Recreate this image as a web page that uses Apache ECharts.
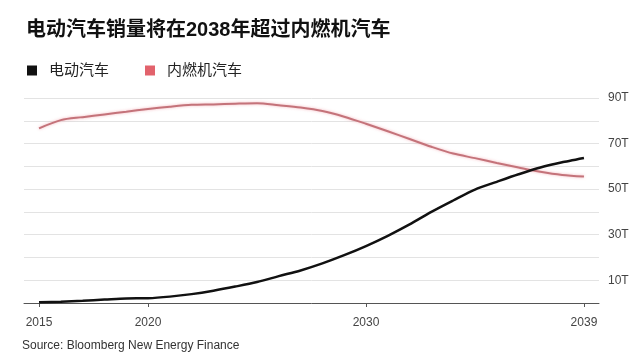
<!DOCTYPE html>
<html>
<head>
<meta charset="utf-8">
<script src="https://cdn.jsdelivr.net/npm/echarts@6/dist/echarts.min.js"></script>
<style>
html,body{margin:0;padding:0;background:#fff;}
#chart{width:641px;height:356px;}
</style>
</head>
<body>
<div id="chart"></div>
<script>
var years = [2015,2016,2017,2018,2019,2020,2021,2022,2023,2024,2025,2026,2027,2028,2029,2030,2031,2032,2033,2034,2035,2036,2037,2038,2039,2040];
var evSales = [0.3,0.6,1.0,1.5,2.0,2.1,2.8,3.9,5.4,7.2,9.2,11.8,14.3,17.4,21.0,25.0,29.5,34.5,40.0,45.0,49.8,53.2,56.5,59.5,61.8,63.7];
var iceSales = [76.7,80.3,81.6,82.8,84.0,85.2,86.2,87.0,87.2,87.5,87.7,86.8,85.8,84.3,81.8,78.7,75.4,72.0,68.6,65.6,63.6,61.5,59.5,57.6,56.2,55.5];
var xTickValues = [2015,2020,2030,2040];
var xTickLabels = ['2015','2020','2030','2039'];
var yLabelValues = [10,30,50,70,90];
var seriesNames = ['电动汽车','内燃机汽车'];
var titleText = '电动汽车销量将在2038年超过内燃机汽车';
var sourceText = 'Source: Bloomberg New Energy Finance';

function pairs(vals){ return years.map(function(y,i){ return [y, vals[i]]; }); }

var chart = echarts.init(document.getElementById('chart'), null, {renderer:'canvas'});
var font = 'Helvetica, Arial, "Liberation Sans", "Noto Sans CJK SC", sans-serif';
chart.setOption({
  animation:false,
  backgroundColor:'#fff',
  textStyle:{fontFamily:font},
  title:[{
    text:titleText, left:21, top:15,
    textStyle:{fontSize:20, fontWeight:'bold', color:'#111', fontFamily:font}
  },{
    text:sourceText, left:17, top:335,
    textStyle:{fontSize:12, fontWeight:'normal', color:'#333', fontFamily:font}
  }],
  legend:{
    left:22, top:58, itemWidth:10, itemHeight:10, itemGap:36, icon:'rect',
    data:[{name:seriesNames[0], itemStyle:{color:'#111'}},{name:seriesNames[1], itemStyle:{color:'#e2626c'}}],
    textStyle:{fontSize:15, color:'#222', padding:[0,0,0,7], fontFamily:font}
  },
  grid:{left:24, right:42, top:98, bottom:53, containLabel:false},
  xAxis:{
    type:'value', min:2014.31, max:2040.69,
    axisLine:{show:true, lineStyle:{color:'#555', width:1}},
    axisTick:{show:true, length:4, customValues:xTickValues, lineStyle:{color:'#555'}},
    axisLabel:{customValues:xTickValues, margin:14, fontSize:12, color:'#444',
      formatter:function(v){ var i = xTickValues.indexOf(v); return i>=0 ? xTickLabels[i] : ''; }},
    splitLine:{show:false}
  },
  yAxis:{
    type:'value', position:'right', min:0, max:90, interval:10,
    axisLine:{show:false}, axisTick:{show:false},
    axisLabel:{margin:9, fontSize:12, color:'#444',
      formatter:function(v){ return yLabelValues.indexOf(v)>=0 ? v+'T' : ''; }},
    splitLine:{show:true, lineStyle:{color:'#e3e3e3', width:1}}
  },
  series:[{
    name:seriesNames[1], type:'line', data:pairs(iceSales), smooth:0.3, symbol:'none', z:2,
    itemStyle:{color:'#e2626c'},
    lineStyle:{color:'#c4737a', width:2, shadowColor:'rgba(240,150,160,0.7)', shadowBlur:3}
  },{
    name:seriesNames[0], type:'line', data:pairs(evSales), smooth:0.3, symbol:'none', z:3,
    itemStyle:{color:'#111'},
    lineStyle:{color:'#111', width:2.5}
  }]
});
</script>
</body>
</html>
